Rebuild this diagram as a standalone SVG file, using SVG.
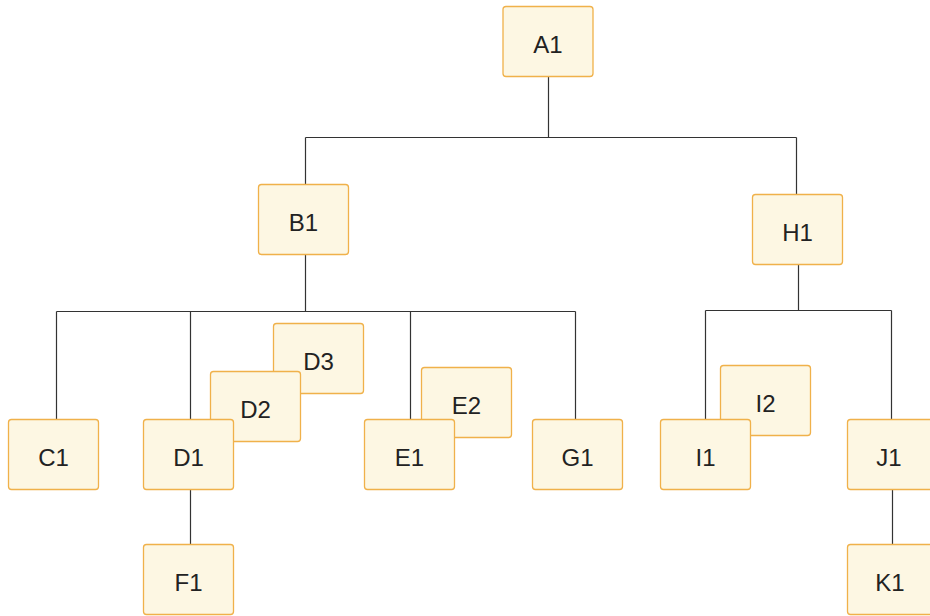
<svg xmlns="http://www.w3.org/2000/svg" width="930" height="616" viewBox="0 0 930 616">
<style>
.n rect{fill:#fdf7e3;stroke:#f0b14a;stroke-width:1.3}
.n text{font-family:"Liberation Sans",Arial,sans-serif;font-size:24px;fill:#222;text-anchor:middle}
.c path{fill:none;stroke:#333;stroke-width:1.2}
</style>
<rect width="930" height="616" fill="#fff"/>
<g class="c">
<path d="M548.5,76V137.5M305.5,137.5H796.5M305.5,137.5V184M796.5,137.5V194"/>
<path d="M305.5,254V311.5M56.5,311.5H575.5M56.5,311.5V419M190.5,311.5V419M410.5,311.5V419M575.5,311.5V419"/>
<path d="M798.5,264V310.5M705.5,310.5H891.5M705.5,310.5V419M891.5,310.5V419"/>
<path d="M190.5,489V544M892.5,489V544"/>
</g>
<g id="A1" class="n"><rect x="503" y="6.5" width="90" height="70" rx="3"/><text x="548" y="53">A1</text></g>
<g id="B1" class="n"><rect x="258.5" y="184.5" width="90" height="70" rx="3"/><text x="303.5" y="231">B1</text></g>
<g id="H1" class="n"><rect x="752.5" y="194.5" width="90" height="70" rx="3"/><text x="797.5" y="241">H1</text></g>
<g id="C1" class="n"><rect x="8.5" y="419.5" width="90" height="70" rx="3"/><text x="53.5" y="466">C1</text></g>
<g id="D3" class="n"><rect x="273.5" y="323.5" width="90" height="70" rx="3"/><text x="318.5" y="370">D3</text></g>
<g id="D2" class="n"><rect x="210.5" y="371.5" width="90" height="70" rx="3"/><text x="255.5" y="418">D2</text></g>
<g id="D1" class="n"><rect x="143.5" y="419.5" width="90" height="70" rx="3"/><text x="188.5" y="466">D1</text></g>
<g id="E2" class="n"><rect x="421.5" y="367.5" width="90" height="70" rx="3"/><text x="466.5" y="414">E2</text></g>
<g id="E1" class="n"><rect x="364.5" y="419.5" width="90" height="70" rx="3"/><text x="409.5" y="466">E1</text></g>
<g id="G1" class="n"><rect x="532.5" y="419.5" width="90" height="70" rx="3"/><text x="577.5" y="466">G1</text></g>
<g id="I2" class="n"><rect x="720.5" y="365.5" width="90" height="70" rx="3"/><text x="765.5" y="412">I2</text></g>
<g id="I1" class="n"><rect x="660.5" y="419.5" width="90" height="70" rx="3"/><text x="705.5" y="466">I1</text></g>
<g id="J1" class="n"><rect x="847.5" y="419.5" width="90" height="70" rx="3"/><text x="889" y="466">J1</text></g>
<g id="F1" class="n"><rect x="143.5" y="544.5" width="90" height="70" rx="3"/><text x="188.5" y="591">F1</text></g>
<g id="K1" class="n"><rect x="847.5" y="544.5" width="90" height="70" rx="3"/><text x="890" y="591">K1</text></g>
</svg>
